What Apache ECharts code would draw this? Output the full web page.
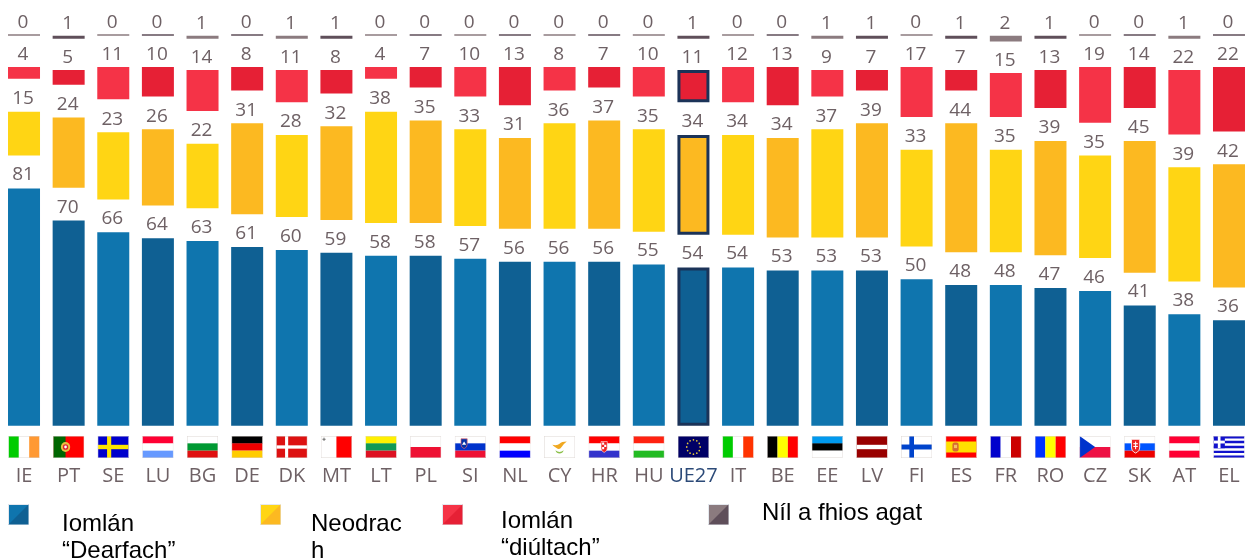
<!DOCTYPE html>
<html><head><meta charset="utf-8">
<style>html,body{margin:0;padding:0;background:#fff}#c{width:1248px;height:560px}</style>
<script src="https://cdn.jsdelivr.net/npm/echarts@6/dist/echarts.min.js"></script>
</head><body><div id="c"></div>
<script>
const countries = ['IE','PT','SE','LU','BG','DE','DK','MT','LT','PL','SI','NL','CY','HR','HU','UE27','IT','BE','EE','LV','FI','ES','FR','RO','CZ','SK','AT','EL'];
const positive  = [81,70,66,64,63,61,60,59,58,58,57,56,56,56,55,54,54,53,53,53,50,48,48,47,46,41,38,36];
const neutral   = [15,24,23,26,22,31,28,32,38,35,33,31,36,37,35,34,34,34,37,39,33,44,35,39,35,45,39,42];
const negative  = [4,5,11,10,14,8,11,8,4,7,10,13,8,7,10,11,12,13,9,7,17,7,15,13,19,14,22,22];
const dontKnow  = [0,1,0,0,1,0,1,1,0,0,0,0,0,0,0,1,0,0,1,1,0,1,2,1,0,0,1,0];

const GAP = 11.2, TOP_GAP = 10.7;
const palette = {
  pos:[ '#0f75ae','#0f6093' ],
  neu:[ '#ffd514','#fcb921' ],
  neg:[ '#f53347','#e62035' ],
  dk: [ '#8b7b7f','#5f4f5a' ]
};
const EU_NAVY = '#1b3358';
const LABEL = '#6e6165';

const h3 = (a,b,c)=>`<rect width="30" height="7" fill="${a}"/><rect y="6.67" width="30" height="6.67" fill="${b}"/><rect y="13.33" width="30" height="6.67" fill="${c}"/>`;
const v3 = (a,b,c)=>`<rect width="10" height="20" fill="${a}"/><rect x="10" width="10" height="20" fill="${b}"/><rect x="20" width="10" height="20" fill="${c}"/>`;
const stars = (()=>{let s='';for(let i=0;i<12;i++){const t=i*Math.PI/6;s+=`<circle cx="${(15+6.5*Math.cos(t)).toFixed(2)}" cy="${(10+6.5*Math.sin(t)).toFixed(2)}" r="0.8" fill="#e6c93a"/>`;}return s;})();
const flags = {
  IE:v3('#00cc00','#fff','#ff9933'),
  PT:'<rect width="30" height="20" fill="#f00"/><rect width="12" height="20" fill="#006600"/><circle cx="12" cy="10" r="4.5" fill="#e8c040"/><circle cx="12" cy="10" r="2.6" fill="#d23"/><circle cx="12" cy="10" r="1.3" fill="#fff"/>',
  SE:'<rect width="30" height="20" fill="#0000cc"/><rect x="9" width="4" height="20" fill="#ffe600"/><rect y="8" width="30" height="4" fill="#ffe600"/>',
  LU:h3('#ff0033','#fff','#6699ff'),
  BG:h3('#fff','#009933','#e01010'),
  DE:h3('#000','#ee0000','#ffcc00'),
  DK:'<rect width="30" height="20" fill="#dd1111"/><rect x="8.5" width="3" height="20" fill="#fff"/><rect y="8.5" width="30" height="3" fill="#fff"/>',
  MT:'<rect width="30" height="20" fill="#f00"/><rect width="15" height="20" fill="#fff"/><rect x="1.5" y="2.5" width="3" height="1" fill="#777"/><rect x="2.5" y="1.5" width="1" height="3" fill="#777"/>',
  LT:h3('#fff000','#119955','#dd1122'),
  PL:'<rect width="30" height="20" fill="#fff"/><rect y="10" width="30" height="10" fill="#ee1133"/>',
  SI:h3('#fff','#0033cc','#ee1133')+'<path d="M6 2.5h6v5q0 3-3 4q-3-1-3-4z" fill="#0033aa" stroke="#e66" stroke-width=".6"/><path d="M7 8l2-3 2 3z" fill="#fff"/>',
  NL:h3('#f00','#fff','#00f'),
  CY:'<rect width="30" height="20" fill="#fff"/><path d="M8 8q5 1 7-1t7-2q-3 2-5 5t-5 1t-4-3z" fill="#f0a820"/><path d="M11 13q4 3 8 0q-1 3-4 3t-4-3z" fill="#8cc04a"/>',
  HR:h3('#f00','#fff','#3333cc')+'<path d="M12 5h6v6q0 3-3 4q-3-1-3-4z" fill="#e22" stroke="#fff" stroke-width=".5"/><path d="M13 6h2v2h-2zM15 8h2v2h-2zM13 10h2v2h-2z" fill="#fff"/>',
  HU:h3('#ff2211','#fff','#22bb22'),
  UE27:'<rect width="30" height="20" fill="#000066"/>'+stars,
  IT:v3('#00cc00','#fff','#ff3300'),
  BE:v3('#000','#ff0','#f00'),
  EE:h3('#0099ee','#000','#fff'),
  LV:'<rect width="30" height="20" fill="#990000"/><rect y="8" width="30" height="4" fill="#fff"/>',
  FI:'<rect width="30" height="20" fill="#fff"/><rect x="8" width="4.5" height="20" fill="#0044cc"/><rect y="7.75" width="30" height="4.5" fill="#0044cc"/>',
  ES:'<rect width="30" height="20" fill="#f00"/><rect y="5" width="30" height="10" fill="#ffe000"/><rect x="6.5" y="6" width="6" height="8" rx="2" fill="#d86a30"/><rect x="8" y="8" width="3" height="3" fill="#f4c060"/>',
  FR:v3('#0000cc','#fff','#cc0000'),
  RO:v3('#0033ff','#ff0','#f00'),
  CZ:'<rect width="30" height="20" fill="#fff"/><rect y="10" width="30" height="10" fill="#ee1144"/><path d="M0 0L15 10L0 20z" fill="#0033cc"/>',
  SK:h3('#fff','#0055ff','#ee0000')+'<path d="M7 3h8v7q0 4-4 5.5q-4-1.5-4-5.5z" fill="#e22" stroke="#fff" stroke-width=".8"/><rect x="10.5" y="5" width="1" height="7" fill="#fff"/><rect x="8.8" y="6.5" width="4.4" height="1" fill="#fff"/><rect x="8.8" y="9" width="4.4" height="1" fill="#fff"/>',
  AT:h3('#ff0033','#fff','#ff0033'),
  EL:'<rect width="30" height="20" fill="#fff"/><path d="M0 0h30v2.2H0zM0 4.4h30v2.2H0zM0 8.9h30v2.2H0zM0 13.3h30v2.2H0zM0 17.8h30V20H0z" fill="#1111cc"/><rect width="11" height="11.1" fill="#1111cc"/><rect x="4.2" width="2.6" height="11.1" fill="#fff"/><rect y="4.2" width="11" height="2.6" fill="#fff"/>'
};
const flagUri = c => 'data:image/svg+xml;charset=utf-8,' + encodeURIComponent(
  `<svg xmlns="http://www.w3.org/2000/svg" width="62" height="44" viewBox="0 0 30 20" preserveAspectRatio="none">${flags[c]}<rect x=".2" y=".2" width="29.6" height="19.6" fill="none" stroke="#ddd6d3" stroke-width=".5"/></svg>`);

const rich = {
  name:{color:LABEL,fontSize:20,fontFamily:'Open Sans',lineHeight:37,height:37,align:'center'},
  eu:{color:'#2c4a78',fontSize:20,fontFamily:'Open Sans',lineHeight:37,height:37,align:'center'}
};
countries.forEach((c,i)=>{ rich['f'+i]={width:31,height:22,align:'center',backgroundColor:{image:flagUri(c)}}; });

const labelOf = d=>({show:true,position:'top',distance:d,offset:[-1,0],color:LABEL,fontSize:19,fontFamily:'Open Sans'});
const mk = (name,vals,pal,dist,extra)=>Object.assign({
  name,type:'bar',stack:'t',barWidth:32,
  label:labelOf(dist),
  data:vals.map((v,i)=>{
    const d={value:v,itemStyle:{color:pal[i%2]}};
    if(countries[i]==='UE27' && name!=='dk'){d.itemStyle.borderColor=EU_NAVY;d.itemStyle.borderWidth=3;}
    return d;
  })
},extra||{});
const spacer = g=>({type:'bar',stack:'t',barWidth:32,silent:true,itemStyle:{color:'transparent'},label:{show:false},data:countries.map(()=>g)});

const swatch = (x,y,a,b)=>[
  {type:'rect',shape:{x:x,y:y,width:20,height:20},style:{fill:a,stroke:'#e4e8ee',lineWidth:1}},
  {type:'polygon',shape:{points:[[x+20,y],[x+20,y+20],[x,y+20]]},style:{fill:b}}
];
const legendText = (x,y,t)=>({type:'text',x,y,style:{text:t,fill:'#000',font:'24px "Liberation Sans"',lineHeight:26.5,textVerticalAlign:'top'}});

const chart = echarts.init(document.getElementById('c'),null,{renderer:'canvas'});
chart.setOption({
  animation:false,
  backgroundColor:'#fff',
  grid:{left:1.7,top:0,width:1249.6,height:425.7,outerBoundsMode:'none'},
  xAxis:{type:'category',data:countries,axisLine:{show:false},axisTick:{show:false},
    axisLabel:{interval:0,margin:10.3,hideOverlap:false,
      formatter:(v,i)=>`{f${i}|}\n{${v==='UE27'?'eu':'name'}|${v}}`,rich}},
  yAxis:{type:'value',min:0,max:145.3,show:false,splitLine:{show:false}},
  series:[
    mk('pos',positive,palette.pos,4),spacer(GAP),
    mk('neu',neutral,palette.neu,3.5),spacer(GAP),
    mk('neg',negative,palette.neg,3),spacer(TOP_GAP),
    mk('dk',dontKnow,palette.dk,2.5,{barMinHeight:1.5})
  ],
  graphic:[
    ...swatch(8.5,504.5,palette.pos[0],palette.pos[1]),
    ...swatch(260.5,504.5,palette.neu[0],palette.neu[1]),
    ...swatch(442.5,504.5,palette.neg[0],palette.neg[1]),
    ...swatch(708.5,504.5,palette.dk[0],palette.dk[1]),
    legendText(62,511.5,'Iomlán\n“Dearfach”'),
    legendText(311,511.5,'Neodrac\nh'),
    legendText(501,508.5,'Iomlán\n“diúltach”'),
    legendText(762,500.5,'Níl a fhios agat')
  ]
});
</script></body></html>
